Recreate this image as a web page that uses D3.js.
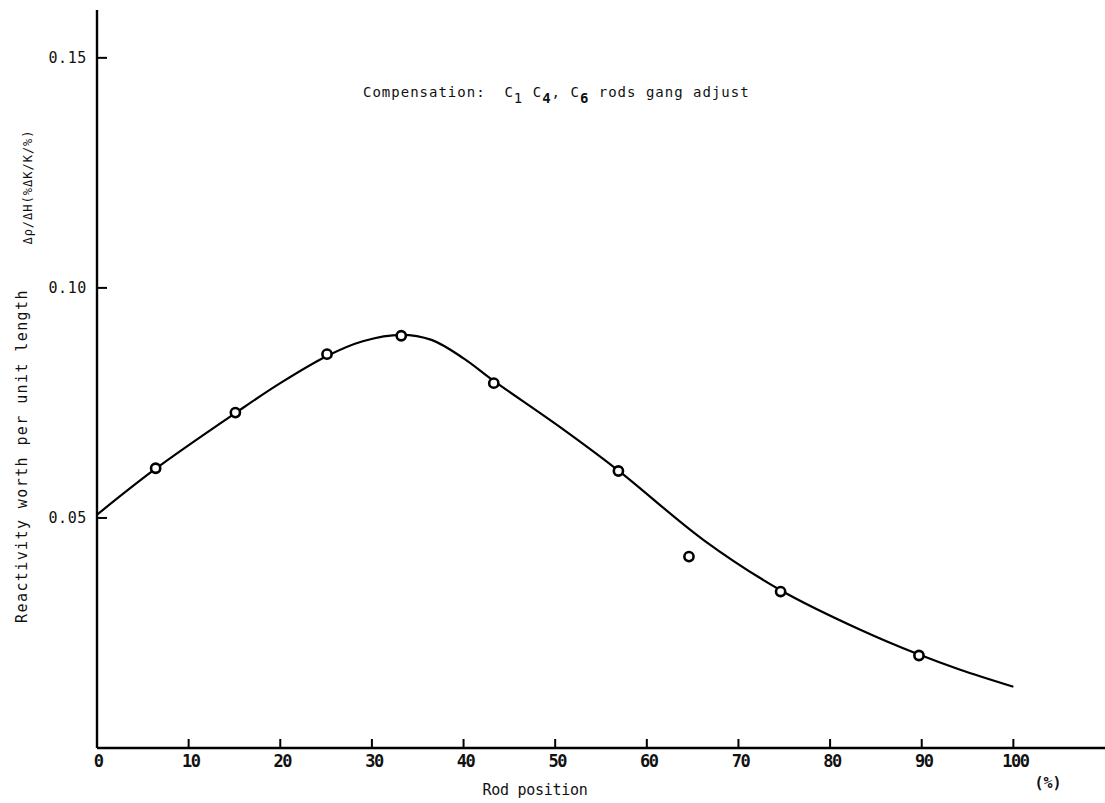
<!DOCTYPE html>
<html>
<head>
<meta charset="utf-8">
<script src="https://cdn.jsdelivr.net/npm/d3@7"></script>
<style>
  html, body { margin: 0; padding: 0; background: #fff; }
  svg { display: block; }
  text { font-family: "DejaVu Sans Mono", "Liberation Mono", monospace; fill: #111; white-space: pre; }
</style>
</head>
<body>
<svg id="chart" width="1105" height="803"></svg>
<script>
// ---- data ----
const xTickValues = [0, 10, 20, 30, 40, 50, 60, 70, 80, 90, 100];
const yTickValues = [0.05, 0.10, 0.15];
const yTickLabels = ["0.05", "0.10", "0.15"];

// measured points (rod position %, reactivity worth)
const pointX = [6.4, 15.1, 25.1, 33.2, 43.3, 56.9, 64.6, 74.6, 89.7];
const pointY = [0.0608, 0.0729, 0.0856, 0.0896, 0.0793, 0.0602, 0.0416, 0.0340, 0.0201];

// fitted curve
const curveX = [0, 6.4, 15.1, 20, 25.1, 29, 33.2, 36.5, 40, 43.3, 50.5, 56.9, 66.2, 74.6, 83.3, 89.7, 94.2, 100];
const curveY = [0.0507, 0.0607, 0.0728, 0.0793, 0.0852, 0.0884, 0.0898, 0.0887, 0.0847, 0.0798, 0.0698, 0.0603, 0.0452, 0.0343, 0.0257, 0.0203, 0.0170, 0.0133];

const xLabel = "Rod position";
const xUnit = "(%)";
const yLabel = "Reactivity worth per unit length";
const yUnitLabel = "\u0394\u03C1/\u0394H(%\u0394K/K/%)";

// ---- drawing ----
const svg = d3.select("#chart");
const x = d3.scaleLinear().domain([0, 110]).range([97, 1105]);
const y = d3.scaleLinear().domain([0, 0.1604]).range([748, 10]);

// axes lines
svg.append("line")
  .attr("x1", x(0)).attr("x2", x(110))
  .attr("y1", y(0)).attr("y2", y(0))
  .attr("stroke", "#000").attr("stroke-width", 2.6);
svg.append("line")
  .attr("x1", x(0)).attr("x2", x(0))
  .attr("y1", y(0)).attr("y2", y(0.1604))
  .attr("stroke", "#000").attr("stroke-width", 2.4);

// x ticks (inward) and labels
const xAxisG = svg.append("g");
xAxisG.selectAll("line.xt").data(xTickValues.filter(d => d > 0)).enter()
  .append("line")
  .attr("x1", d => x(d)).attr("x2", d => x(d))
  .attr("y1", y(0)).attr("y2", y(0) - 9)
  .attr("stroke", "#000").attr("stroke-width", 2);
xAxisG.selectAll("text.xl").data(xTickValues).enter()
  .append("text")
  .attr("x", d => x(d) + (d === 0 ? 1 : 2))
  .attr("y", 767)
  .attr("text-anchor", "middle")
  .style("font-size", "17px")
  .style("letter-spacing", "-1.5px")
  .style("font-weight", "bold")
  .text(d => d);

// y ticks (inward) and labels
const yAxisG = svg.append("g");
yAxisG.selectAll("line.yt").data(yTickValues).enter()
  .append("line")
  .attr("x1", x(0)).attr("x2", x(0) + 10)
  .attr("y1", d => y(d)).attr("y2", d => y(d))
  .attr("stroke", "#000").attr("stroke-width", 2);
yAxisG.selectAll("text.yl").data(yTickValues).enter()
  .append("text")
  .attr("x", 87)
  .attr("y", d => y(d) + 5)
  .attr("text-anchor", "end")
  .style("font-size", "15px")
  .style("letter-spacing", "0.6px")
  .text((d, i) => yTickLabels[i]);

// axis titles
svg.append("text")
  .attr("x", 535).attr("y", 795)
  .attr("text-anchor", "middle")
  .style("font-size", "15px")
  .style("letter-spacing", "-0.3px")
  .text(xLabel);
svg.append("text")
  .attr("x", 1048).attr("y", 788)
  .attr("text-anchor", "middle")
  .style("font-size", "15px")
  .style("font-weight", "bold")
  .text(xUnit);
svg.append("text")
  .attr("transform", "translate(27,456) rotate(-90)")
  .attr("text-anchor", "middle")
  .style("font-size", "15px")
  .style("letter-spacing", "1.4px")
  .text(yLabel);
svg.append("text")
  .attr("transform", "translate(32,187) rotate(-90)")
  .attr("text-anchor", "middle")
  .style("font-size", "12px")
  .style("letter-spacing", "1px")
  .text(yUnitLabel);

// annotation with subscripts
const ann = svg.append("text")
  .attr("x", 363).attr("y", 97)
  .style("font-size", "14px")
  .style("letter-spacing", "1px");
ann.append("tspan").text("Compensation:  C");
ann.append("tspan").attr("dy", 6).text("1");
ann.append("tspan").attr("dy", -6).text(" C");
ann.append("tspan").attr("dy", 6).style("font-weight", "bold").text("4");
ann.append("tspan").attr("dy", -6).text(", C");
ann.append("tspan").attr("dy", 6).style("font-weight", "bold").text("6");
ann.append("tspan").attr("dy", -6).text(" rods gang adjust");

// fitted curve
const curveData = curveX.map((d, i) => [d, curveY[i]]);
const line = d3.line()
  .x(d => x(d[0]))
  .y(d => y(d[1]))
  .curve(d3.curveCatmullRom.alpha(0.5));
svg.append("path")
  .datum(curveData)
  .attr("d", line)
  .attr("fill", "none")
  .attr("stroke", "#000")
  .attr("stroke-width", 2.2);

// measured points
const pts = pointX.map((d, i) => [d, pointY[i]]);
svg.selectAll("circle.pt").data(pts).enter()
  .append("circle")
  .attr("cx", d => x(d[0]))
  .attr("cy", d => y(d[1]))
  .attr("r", 4.6)
  .attr("fill", "#fff")
  .attr("stroke", "#000")
  .attr("stroke-width", 2.6);
</script>
</body>
</html>
